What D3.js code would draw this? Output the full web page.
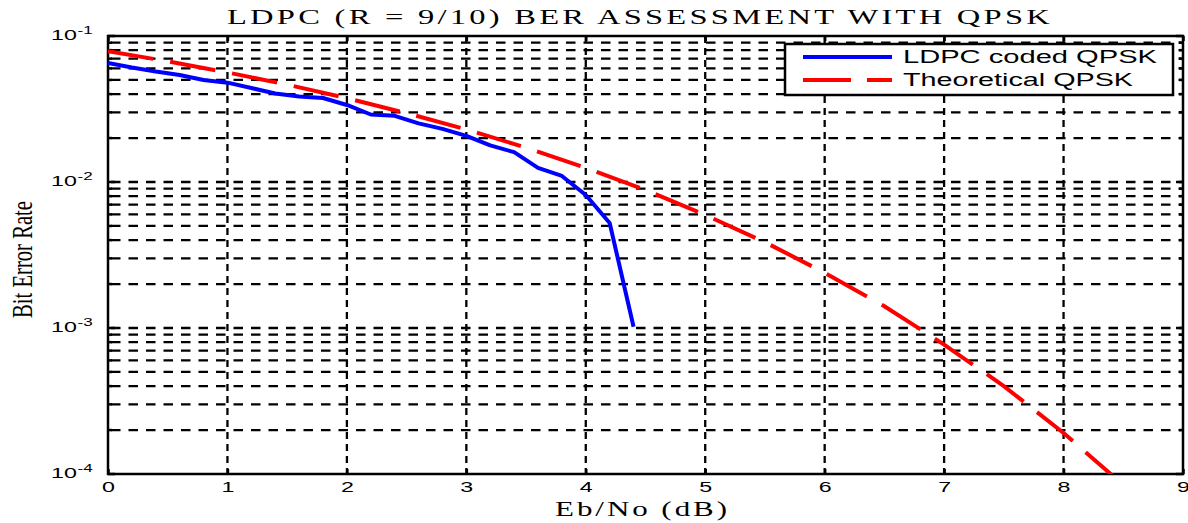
<!DOCTYPE html>
<html>
<head>
<meta charset="utf-8">
<script src="https://cdn.jsdelivr.net/npm/d3@7"></script>
<style>
  body { margin: 0; background: #fff; }
  svg { display: block; }
</style>
</head>
<body>
<div id="chart"></div>
<script>
// Eb/No values (dB) and measured BER for the LDPC coded curve
const ebnoLdpc = [0, 0.2, 0.4, 0.6, 0.8, 1.0, 1.2, 1.4, 1.6, 1.8, 2.0, 2.2,
                  2.4, 2.6, 2.8, 3.0, 3.2, 3.4, 3.6, 3.8, 4.0, 4.2, 4.4];
const berLdpc = [0.0654, 0.0608, 0.0571, 0.0541, 0.0500, 0.0479, 0.0440, 0.0404,
                 0.0385, 0.0376, 0.0337, 0.0290, 0.0284, 0.0252, 0.0231, 0.0207,
                 0.0178, 0.0160, 0.0125, 0.0110, 0.00814, 0.00524, 0.00102];

// theoretical QPSK curve
const ebnoTheory = [0, 0.5, 1, 1.5, 2, 2.5, 3, 3.5, 4, 4.5, 5, 5.5, 6, 6.5, 7, 7.5, 8, 8.5];
const berTheory = [0.0786, 0.0671, 0.0563, 0.0464, 0.0375, 0.0296, 0.0229, 0.0172,
                   0.0125, 0.00882, 0.00595, 0.00387, 0.00239, 0.00141, 0.00077,
                   0.00040, 0.000191, 0.0000841];

const xTicks = [0, 1, 2, 3, 4, 5, 6, 7, 8, 9];
const yDecades = [1e-1, 1e-2, 1e-3, 1e-4];
const yExponents = ["-1", "-2", "-3", "-4"];
const seriesNames = ["LDPC coded QPSK", "Theoretical QPSK"];
const seriesColors = ["#0000ff", "#ff0000"];

const width = 1188;
const height = 523;
const pLeft = 108, pRight = 1183, pTop = 36, pBottom = 474;

const svg = d3.select("#chart").append("svg")
    .attr("width", width)
    .attr("height", height);

const x = d3.scaleLinear().domain([0, 9]).range([pLeft, pRight]);
const y = d3.scaleLog().domain([1e-4, 1e-1]).range([pBottom, pTop]);

svg.append("defs").append("clipPath").attr("id", "plotclip")
  .append("rect")
    .attr("x", pLeft).attr("y", pTop)
    .attr("width", pRight - pLeft).attr("height", pBottom - pTop);

// every 1..9 x decade value for the minor grid
const yMinor = [];
[1e-4, 1e-3, 1e-2].forEach(d => {
  for (let k = 1; k <= 9; k++) yMinor.push(d * k);
});
const yGridVals = yMinor.filter(v => v > 1e-4 && v < 1e-1);

// grid
const grid = svg.append("g").attr("stroke", "#000").attr("stroke-width", 2.3);
grid.selectAll(".hgrid")
  .data(yGridVals)
  .enter().append("line")
    .attr("class", "hgrid")
    .attr("x1", pLeft + 3).attr("x2", pRight)
    .attr("y1", d => y(d)).attr("y2", d => y(d))
    .attr("stroke-dasharray", "9.5,8");

grid.selectAll(".vgrid")
  .data(xTicks.slice(1, -1))
  .enter().append("line")
    .attr("class", "vgrid")
    .attr("x1", d => x(d)).attr("x2", d => x(d))
    .attr("y1", pTop).attr("y2", pBottom)
    .attr("stroke-dasharray", "7,5");

// axes with inward ticks
const xAxis = d3.axisBottom(x).tickValues(xTicks).tickSize(-5).tickPadding(12)
    .tickFormat(d3.format("d"));
const gx = svg.append("g")
    .attr("transform", "translate(0," + pBottom + ")")
    .call(xAxis);
gx.select(".domain").remove();
gx.selectAll("line").attr("stroke-width", 2.5);
gx.selectAll("text")
    .attr("font-family", "Liberation Sans, Arial, sans-serif")
    .attr("font-size", 15)
    .attr("fill", "#000")
    .attr("transform", "scale(1.55,1)")
    .attr("y", 7).attr("dy", "0.71em");

const gxTop = svg.append("g")
    .attr("transform", "translate(0," + pTop + ")")
    .call(d3.axisTop(x).tickValues(xTicks).tickSize(-5).tickFormat(""));
gxTop.select(".domain").remove();
gxTop.selectAll("line").attr("stroke-width", 2.5);

[[pLeft, 1], [pRight, -1]].forEach(([px, dir]) => {
  svg.append("g").selectAll("line")
    .data(yMinor.filter(v => v >= 1e-4 && v <= 1e-1).concat([1e-1]))
    .enter().append("line")
      .attr("x1", px).attr("x2", d => px + dir * (yDecades.includes(d) ? 7 : 4))
      .attr("y1", d => y(d)).attr("y2", d => y(d))
      .attr("stroke", "#000").attr("stroke-width", 2.5);
});

// y tick labels 10^n
const ylab = svg.append("g")
    .attr("font-family", "Liberation Sans, Arial, sans-serif")
    .attr("fill", "#000");
yDecades.forEach((d, i) => {
  const t = ylab.append("text")
      .attr("transform", "translate(51," + (y(d) + 4) + ") scale(1.55,1)")
      .attr("font-size", 15);
  t.append("tspan").text("10");
  t.append("tspan").attr("font-size", 11).attr("dx", 0.5).attr("dy", -6.5)
      .text(yExponents[i]);
});

// frame
svg.append("rect")
    .attr("x", pLeft).attr("y", pTop)
    .attr("width", pRight - pLeft).attr("height", pBottom - pTop)
    .attr("fill", "none").attr("stroke", "#000").attr("stroke-width", 2.5);

// series
const line = d3.line().x(d => x(d[0])).y(d => y(d[1]));
const plot = svg.append("g").attr("clip-path", "url(#plotclip)");

plot.append("path")
    .datum(ebnoLdpc.map((e, i) => [e, berLdpc[i]]))
    .attr("d", line)
    .attr("fill", "none")
    .attr("stroke", seriesColors[0])
    .attr("stroke-width", 4)
    .attr("stroke-linejoin", "round");

plot.append("path")
    .datum(ebnoTheory.map((e, i) => [e, berTheory[i]]))
    .attr("d", line)
    .attr("fill", "none")
    .attr("stroke", seriesColors[1])
    .attr("stroke-width", 4)
    .attr("stroke-dasharray", "46,17");

// legend
const legend = svg.append("g");
legend.append("rect")
    .attr("x", 785).attr("y", 44).attr("width", 388).attr("height", 51)
    .attr("fill", "#fff").attr("stroke", "#000").attr("stroke-width", 2.5);

const legendY = [57, 80];
const legendWidths = [254, 230];
seriesNames.forEach((name, i) => {
  legend.append("line")
      .attr("x1", 803).attr("x2", 892)
      .attr("y1", legendY[i]).attr("y2", legendY[i])
      .attr("stroke", seriesColors[i]).attr("stroke-width", 4)
      .attr("stroke-dasharray", i === 1 ? "48,16" : null);
  legend.append("text")
      .attr("x", 903).attr("y", legendY[i] + 6)
      .attr("font-family", "Liberation Sans, Arial, sans-serif")
      .attr("font-size", 18)
      .attr("textLength", legendWidths[i])
      .attr("lengthAdjust", "spacingAndGlyphs")
      .text(name);
});

// title and axis labels
svg.append("text")
    .attr("x", 227).attr("y", 24)
    .attr("font-family", "Liberation Serif, Times New Roman, serif")
    .attr("font-size", 20)
    .attr("letter-spacing", 2)
    .attr("textLength", 826)
    .attr("lengthAdjust", "spacingAndGlyphs")
    .text("LDPC (R = 9/10) BER ASSESSMENT WITH QPSK");

svg.append("text")
    .attr("x", 555).attr("y", 516)
    .attr("font-family", "Liberation Serif, Times New Roman, serif")
    .attr("font-size", 21)
    .attr("letter-spacing", 2)
    .attr("textLength", 175)
    .attr("lengthAdjust", "spacingAndGlyphs")
    .text("Eb/No (dB)");

svg.append("text")
    .attr("transform", "translate(32,318) rotate(-90)")
    .attr("font-family", "Liberation Serif, Times New Roman, serif")
    .attr("font-size", 29)
    .attr("textLength", 117)
    .attr("lengthAdjust", "spacingAndGlyphs")
    .text("Bit Error Rate");
</script>
</body>
</html>
